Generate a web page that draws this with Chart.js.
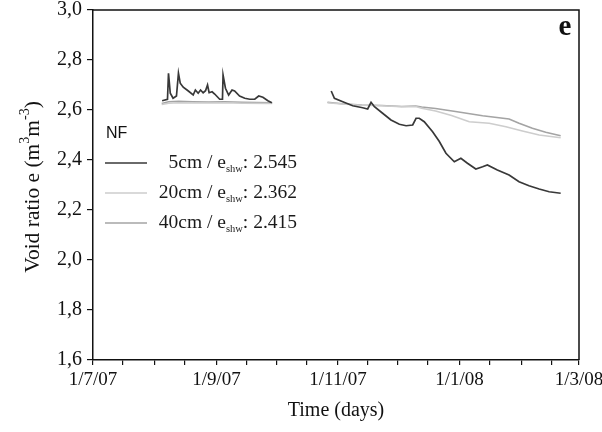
<!DOCTYPE html>
<html><head><meta charset="utf-8">
<script src="https://cdn.jsdelivr.net/npm/chart.js@4.4.0/dist/chart.umd.min.js"></script>
<style>html,body{margin:0;padding:0;background:#fff;}#wrap{width:602px;height:432px;}</style>
</head><body><div id="wrap"><canvas id="c" width="602" height="432"></canvas></div>
<script>
// x axis: days since 1 July 2007
const xMajorDays = [0, 62, 123, 184, 244];
const xMajorLabels = ['1/7/07', '1/9/07', '1/11/07', '1/1/08', '1/3/08'];
const xMinorDays = [15, 31, 46, 77, 92, 107, 138, 153, 168, 199, 215, 230];
const yTickValues = [1.6, 1.8, 2.0, 2.2, 2.4, 2.6, 2.8, 3.0];

const seriesNames = ['5cm', '20cm', '40cm'];
const eShwValues = ['2.545', '2.362', '2.415'];
const seriesColors = ['#383838', '#cdcdcd', '#a4a4a4'];

// 5 cm — first measuring period
const days5a = [34.7, 37.4, 37.9, 38.8, 40.2, 41.9, 42.9, 43.8, 45.3, 47.7, 50.3, 51.4, 52.8, 54, 55.3, 56.5, 57.5, 58.3, 59.8, 61.1, 63.6, 65, 65.3, 66.5, 68.1, 69.8, 71.1, 73.6, 76.2, 78.7, 81.2, 83.2, 85.3, 87.8, 89.8];
const vals5a = [2.637, 2.643, 2.747, 2.667, 2.647, 2.656, 2.747, 2.707, 2.691, 2.677, 2.66, 2.68, 2.667, 2.68, 2.669, 2.677, 2.70, 2.669, 2.673, 2.664, 2.643, 2.643, 2.74, 2.687, 2.66, 2.68, 2.676, 2.656, 2.647, 2.643, 2.643, 2.656, 2.651, 2.637, 2.629];
// 5 cm — second measuring period
const days5b = [119.6, 121.2, 125.4, 130.4, 135.4, 137.9, 139.6, 141.3, 145.4, 149.6, 153.8, 157.2, 160.5, 162.2, 163.8, 166.3, 170.5, 173.8, 177.2, 181.4, 184.7, 188, 192.2, 195.6, 198, 203, 208.9, 213.9, 218.9, 224, 229, 234.8];
const vals5b = [2.676, 2.647, 2.633, 2.617, 2.609, 2.604, 2.631, 2.613, 2.587, 2.56, 2.543, 2.537, 2.54, 2.567, 2.567, 2.553, 2.513, 2.475, 2.427, 2.393, 2.407, 2.387, 2.364, 2.373, 2.38, 2.36, 2.34, 2.313, 2.297, 2.284, 2.273, 2.267];

// 20 cm
const days20a = [34.5, 38, 43, 50, 60, 66, 75, 90];
const vals20a = [2.622, 2.627, 2.629, 2.628, 2.628, 2.629, 2.627, 2.626];
const days20b = [117.7, 125, 135, 145, 155, 162, 165, 172, 180, 188.9, 198.9, 207.3, 215.6, 224, 234.8];
const vals20b = [2.629, 2.624, 2.619, 2.617, 2.613, 2.614, 2.607, 2.596, 2.578, 2.553, 2.547, 2.533, 2.516, 2.5, 2.489];

// 40 cm
const days40a = [34.5, 38, 43, 50, 58, 66, 75, 90];
const vals40a = [2.626, 2.633, 2.635, 2.633, 2.632, 2.633, 2.631, 2.629];
const days40b = [117.7, 125, 135, 145, 155, 162, 165, 172, 182, 195.6, 208.9, 213.9, 220.6, 227.3, 234.8];
const vals40b = [2.631, 2.625, 2.62, 2.618, 2.614, 2.616, 2.612, 2.606, 2.594, 2.577, 2.564, 2.547, 2.527, 2.511, 2.497];

function pts(dA, vA, dB, vB) {
  const out = dA.map((d, i) => ({x: d, y: vA[i]}));
  out.push({x: (dA[dA.length - 1] + dB[0]) / 2, y: null});
  return out.concat(dB.map((d, i) => ({x: d, y: vB[i]})));
}

const SERIF = '"Liberation Serif", "Times New Roman", serif';
const allXTicks = xMajorDays.concat(xMinorDays).sort((a, b) => a - b);

function drawRich(ctx, parts, x, y, align, baseSize, smallSize) {
  let w = 0;
  parts.forEach(p => {
    ctx.font = (p.s ? smallSize : baseSize) + 'px ' + SERIF;
    p.w = ctx.measureText(p.t).width;
    w += p.w;
  });
  let cx = align === 'right' ? x - w : (align === 'center' ? x - w / 2 : x);
  parts.forEach(p => {
    ctx.font = (p.s ? smallSize : baseSize) + 'px ' + SERIF;
    const dy = p.s === 'sub' ? baseSize * 0.3 : (p.s === 'sup' ? -baseSize * 0.38 : 0);
    ctx.fillText(p.t, cx, y + dy);
    cx += p.w;
  });
}

const decor = {
  id: 'decor',
  afterDraw(chart) {
    const ctx = chart.ctx;
    const a = chart.chartArea;
    ctx.save();
    // frame top & right
    ctx.strokeStyle = '#111';
    ctx.lineWidth = 1.5;
    ctx.beginPath();
    ctx.moveTo(a.left, a.top);
    ctx.lineTo(a.right, a.top);
    ctx.lineTo(a.right, a.bottom);
    ctx.stroke();
    // panel label
    ctx.fillStyle = '#111';
    ctx.textBaseline = 'middle';
    ctx.textAlign = 'center';
    ctx.font = 'bold 29px ' + SERIF;
    ctx.fillText('e', 565, 28);
    ctx.textAlign = 'left';
    // legend
    ctx.font = '16px "Liberation Sans", Arial, sans-serif';
    ctx.fillText('NF', 106, 134);
    const ys = [163, 193, 223];
    seriesNames.forEach((n, i) => {
      ctx.strokeStyle = seriesColors[i];
      ctx.lineWidth = 1.6;
      ctx.beginPath();
      ctx.moveTo(105, ys[i]);
      ctx.lineTo(147, ys[i]);
      ctx.stroke();
      ctx.fillStyle = '#1a1a1a';
      ctx.textAlign = 'left';
      drawRich(ctx, [{t: n + ' / e'}, {t: 'shw', s: 'sub'}, {t: ': ' + eShwValues[i]}], 297, ys[i], 'right', 19.5, 10.5);
    });
    // y axis title
    ctx.translate(33, 187);
    ctx.rotate(-Math.PI / 2);
    ctx.fillStyle = '#111';
    drawRich(ctx, [{t: 'Void ratio e (m'}, {t: '3', s: 'sup'}, {t: 'm'}, {t: '-3', s: 'sup'}, {t: ')'}], 0, 0, 'center', 21.5, 14);
    ctx.restore();
  }
};

new Chart(document.getElementById('c'), {
  type: 'line',
  data: {
    datasets: [
      {label: '5cm', data: pts(days5a, vals5a, days5b, vals5b), borderColor: seriesColors[0], borderWidth: 1.7},
      {label: '20cm', data: pts(days20a, vals20a, days20b, vals20b), borderColor: seriesColors[1], borderWidth: 1.7},
      {label: '40cm', data: pts(days40a, vals40a, days40b, vals40b), borderColor: seriesColors[2], borderWidth: 1.7}
    ].map(d => Object.assign(d, {pointRadius: 0, fill: false, spanGaps: false, tension: 0}))
  },
  options: {
    responsive: false,
    devicePixelRatio: 1,
    animation: false,
    layout: {padding: {top: 10, right: 23, left: 0, bottom: 0}},
    plugins: {legend: {display: false}, tooltip: {enabled: false}},
    scales: {
      x: {
        type: 'linear', min: 0, max: 244, position: 'bottom',
        afterBuildTicks: s => { s.ticks = allXTicks.map(v => ({value: v})); },
        afterFit: s => { s.height = 72; s.paddingLeft = 0; s.paddingRight = 0; },
        ticks: {
          autoSkip: false, maxRotation: 0, padding: 4, color: '#111',
          font: {family: SERIF, size: 19},
          callback: v => { const i = xMajorDays.indexOf(v); return i >= 0 ? xMajorLabels[i] : ''; }
        },
        grid: {drawOnChartArea: false, tickLength: 5, color: '#111', lineWidth: 1.2},
        border: {color: '#111', width: 1.5},
        title: {display: true, text: 'Time (days)', color: '#111', font: {family: SERIF, size: 20}, padding: {top: 0, bottom: 9}}
      },
      y: {
        min: 1.6, max: 3.0,
        afterBuildTicks: s => { s.ticks = yTickValues.map(v => ({value: v})); },
        afterFit: s => { s.width = 93; s.paddingTop = 0; s.paddingBottom = 0; },
        ticks: {
          padding: 5, color: '#111', font: {family: SERIF, size: 20},
          callback: v => v.toFixed(1).replace('.', ',')
        },
        grid: {drawOnChartArea: false, tickLength: 6, color: '#111', lineWidth: 1.2},
        border: {color: '#111', width: 1.5}
      }
    }
  },
  plugins: [decor]
});
</script></body></html>
